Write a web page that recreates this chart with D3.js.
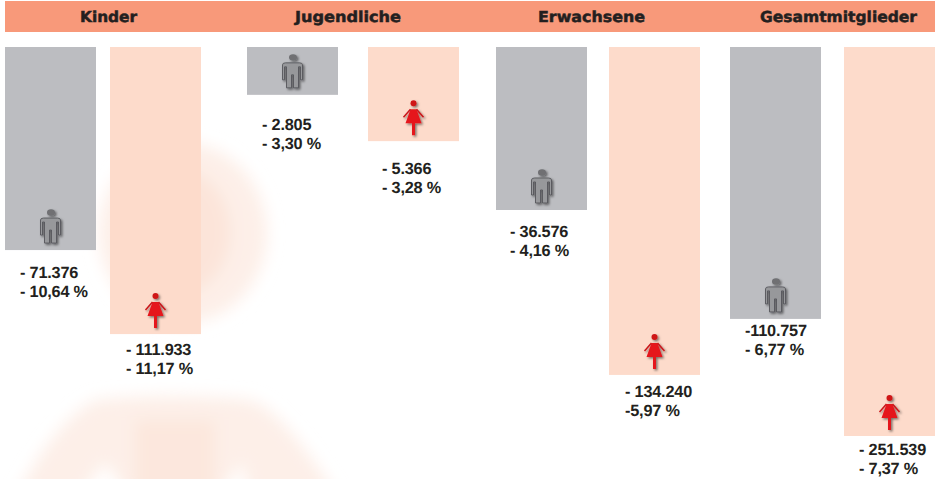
<!DOCTYPE html>
<html>
<head>
	<meta http-equiv="Content-Type" content="text/html;charset=UTF-8">
	<title>Mitgliederentwicklung</title>
	<style>
		html, body { margin: 0; padding: 0; background: #fff; overflow: hidden; }
		svg { display: block; }
		text { font-family: "Liberation Sans", Arial, sans-serif; font-weight: bold; fill: #231f20; text-rendering: geometricPrecision; }
		.head { font-family: "DejaVu Sans", sans-serif; font-size: 15px; stroke: #231f20; stroke-width: .5; }
		.lab { font-size: 16.3px; letter-spacing: -.2px; }
	</style>
</head>
<body>
	<div class="chart"></div>

	<script src="https://d3js.org/d3.v7.min.js"></script>
	<script type="text/javascript">

		var categories = ["Kinder", "Jugendliche", "Erwachsene", "Gesamtmitglieder"];

		// bar length, 100 = longest bar.
		// the original bars are not proportional to the printed numbers
		var menLength = [52.2, 12.3, 41.9, 69.9];
		var womenLength = [73.8, 24.2, 84.3, 100];

		var menValues = ["- 71.376", "- 2.805", "- 36.576", "-110.757"];
		var menPercent = ["- 10,64 %", "- 3,30 %", "- 4,16 %", "- 6,77 %"];
		var womenValues = ["- 111.933", "- 5.366", "- 134.240", "- 251.539"];
		var womenPercent = ["- 11,17 %", "- 3,28 %", "-5,97 %", "- 7,37 %"];

		var w = 935,
			h = 479,
			barTop = 47,
			barW = 91;

		var headX = d3.scaleOrdinal().domain(categories).range([80, 295, 538, 760]);
		var headW = d3.scaleOrdinal().domain(categories).range([57, 106, 107, 157]);
		var menX = d3.scaleOrdinal().domain(categories).range([5, 247, 496, 730]);
		var womenX = d3.scaleOrdinal().domain(categories).range([110, 368, 609, 844]);
		var menLabX = d3.scaleOrdinal().domain(categories).range([20, 262, 510, 745]);
		var womenLabX = d3.scaleOrdinal().domain(categories).range([126, 382, 625, 859]);
		var menLabGap = d3.scaleOrdinal().domain(categories).range([28, 35, 27, 17]);
		var womenLabGap = d3.scaleOrdinal().domain(categories).range([21, 33, 22, 19]);

		var y = d3.scaleLinear().domain([0, 100]).range([0, 389]);

		var SVG = d3.select("div.chart").append("svg")
					.attr("width", w)
					.attr("height", h);

		var defs = SVG.append("defs");
		defs.append("filter").attr("id", "soft")
			.attr("x", "-30%").attr("y", "-30%").attr("width", "160%").attr("height", "160%")
			.append("feGaussianBlur").attr("stdDeviation", 8);
		var shadow = defs.append("filter").attr("id", "shadow")
			.attr("x", "-40%").attr("y", "-40%").attr("width", "200%").attr("height", "200%");
		shadow.append("feGaussianBlur").attr("in", "SourceGraphic").attr("stdDeviation", .35).attr("result", "b");
		shadow.append("feDropShadow")
			.attr("in", "b")
			.attr("dx", 1.5).attr("dy", 1.5).attr("stdDeviation", 1)
			.attr("flood-color", "#000").attr("flood-opacity", .5);

		// faint person watermark behind the bars
		var mark = SVG.append("g").attr("filter", "url(#soft)");
		mark.append("ellipse")
			.attr("cx", 183).attr("cy", 233).attr("rx", 84).attr("ry", 90)
			.attr("fill", "#fdefe8");
		mark.append("ellipse")
			.attr("cx", 180).attr("cy", 232).attr("rx", 50).attr("ry", 62)
			.attr("fill", "#fce4d9");
		mark.append("path")
			.attr("d", "M95,400 Q170,392 250,400 Q285,410 345,510 L250,510 L243,462 L215,500 L130,500 L105,462 L70,510 L10,510 Q50,425 95,400Z")
			.attr("fill", "#fdefe8");
		mark.append("rect")
			.attr("x", 135).attr("y", 420).attr("width", 80).attr("height", 80)
			.attr("fill", "#fce7dd");

		function man(g) {
			g.append("ellipse").attr("cx", 0.5).attr("cy", 3.5)
				.attr("rx", 4).attr("ry", 3.2).attr("fill", "#6f7073");
			g.append("path")
				.attr("d", "M-10,11 Q-10,9 -7,9 L7,9 Q10,9 10,11 L10,26 L8,26 L8,13 L6,13 L6,34 L1,34 L1,21 L-1,21 L-1,34 L-6,34 L-6,13 L-8,13 L-8,26 L-10,26Z")
				.attr("fill", "#97989b").attr("stroke", "#55565a").attr("stroke-width", .9);
		}

		function woman(g) {
			g.append("circle").attr("cx", 0).attr("cy", 3).attr("r", 3).attr("fill", "#cf1319");
			g.append("path")
				.attr("d", "M-3,9 L3,9 L8,23 L1.5,23 L1.5,35 L-1.5,35 L-1.5,23 L-8,23Z")
				.attr("fill", "#e5181e");
			g.append("path")
				.attr("d", "M-3,9 L-10,17 M3,9 L10,17")
				.attr("stroke", "#c9151a").attr("stroke-width", 1.5).attr("fill", "none");
		}

		function renderHeader() {
			SVG.append("rect")
				.attr("x", 5).attr("y", 1)
				.attr("width", w - 5).attr("height", 31)
				.attr("fill", "#f8997a");

			SVG.selectAll("text.head").data(categories).enter().append("text")
				.attr("class", "head")
				.attr("x", function(d){ return headX(d); })
				.attr("y", 22)
				.attr("textLength", function(d){ return headW(d); })
				.attr("lengthAdjust", "spacingAndGlyphs")
				.text(function(d){ return d; });
		}

		function renderBars(cls, len, xs, fill, icon) {
			var g = SVG.selectAll("g." + cls).data(categories).enter().append("g")
				.attr("class", cls);

			g.append("rect")
				.attr("x", function(d){ return xs(d); })
				.attr("y", barTop)
				.attr("width", barW)
				.attr("height", function(d, i){ return y(len[i]); })
				.attr("fill", fill);

			g.append("g")
				.attr("filter", "url(#shadow)")
				.attr("transform", function(d, i){
					return "translate(" + (xs(d) + barW / 2) + "," + (barTop + y(len[i]) - 41) + ")";
				})
				.each(function(){ icon(d3.select(this)); });
		}

		function renderLabels(len, values, percent, xs, gap) {
			categories.forEach(function(d, i){
				var base = barTop + y(len[i]) + gap(d);
				SVG.append("text").attr("class", "lab")
					.attr("x", xs(d)).attr("y", base).text(values[i]);
				SVG.append("text").attr("class", "lab")
					.attr("x", xs(d)).attr("y", base + 19).text(percent[i]);
			});
		}

		renderHeader();
		renderBars("men", menLength, menX, "#bcbdc1", man);
		renderBars("women", womenLength, womenX, "#fddbcb", woman);
		renderLabels(menLength, menValues, menPercent, menLabX, menLabGap);
		renderLabels(womenLength, womenValues, womenPercent, womenLabX, womenLabGap);
	</script>
</body>
</html>
